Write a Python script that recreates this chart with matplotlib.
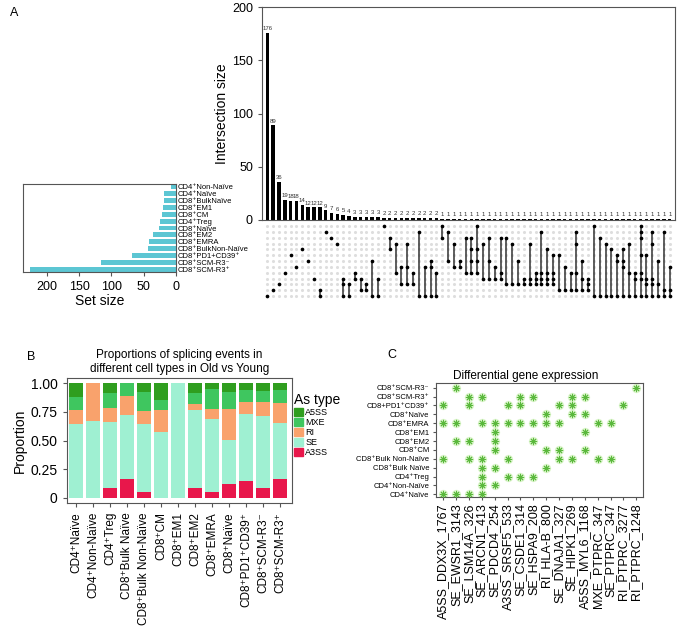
import matplotlib
matplotlib.use("Agg")
import matplotlib.pyplot as plt
import matplotlib.patches as mpatches
import numpy as np

plt.rcParams['font.family'] = ['Liberation Sans', 'DejaVu Sans']

# ---- panel A: upset ----
set_names = ["CD4⁺Non-Naïve", "CD4⁺Naïve", "CD8⁺BulkNaïve", "CD8⁺EM1", "CD8⁺CM",
             "CD4⁺Treg", "CD8⁺Naïve", "CD8⁺EM2", "CD8⁺EMRA", "CD8⁺BulkNon-Naïve",
             "CD8⁺PD1+CD39⁺", "CD8⁺SCM-R3⁻", "CD8⁺SCM-R3⁺"]
set_sizes = [8, 18, 19, 20, 22, 25, 27, 36, 42, 43, 68, 116, 226]

inter_counts = [176, 89, 36, 19, 18, 18, 14, 12, 12, 12, 9, 7, 6, 5, 4,
                3, 3, 3, 3, 3] + [2] * 10 + [1] * 40

# rows (index into set_names) that take part in each intersection
intersections = [
    [12], [11], [10], [8], [5], [7], [4], [6], [9], [11, 12],
    [1], [2], [3], [9, 10, 12], [10, 12], [8, 9], [9, 11], [10, 11], [6, 12], [9, 12],
    [0], [2, 4], [3, 8], [7, 10], [3, 7, 10], [8, 10], [1, 12], [7, 12], [6, 7, 12], [8, 12],
    [0, 2], [1, 6], [3, 7], [6, 7], [2, 8], [2, 4, 6, 8], [0, 4, 6, 8], [3, 9], [2, 6, 9], [7, 9],
    [2, 8, 9], [2, 10], [3, 10], [6, 10], [9, 10], [3, 9, 10], [8, 9, 10], [1, 8, 9, 10],
    [4, 8, 9, 10], [5, 8, 9, 10],
    [5, 11], [7, 11], [8, 11], [1, 3, 8, 11], [6, 9, 11], [9, 10, 11], [0, 12], [2, 12],
    [3, 12], [4, 12],
    [5, 6, 12], [4, 6, 7, 12], [3, 8, 12], [8, 9, 12], [0, 1, 2, 5, 8, 9, 12],
    [5, 9, 10, 12], [1, 3, 9, 10, 12], [6, 10, 12], [1, 11, 12], [7, 11, 12],
]

# ---- panel B: splicing proportions ----
cell_types = ["CD4⁺Naïve", "CD4⁺Non-Naïve", "CD4⁺Treg", "CD8⁺Bulk Naïve",
              "CD8⁺Bulk Non-Naïve", "CD8⁺CM", "CD8⁺EM1", "CD8⁺EM2", "CD8⁺EMRA",
              "CD8⁺Naïve", "CD8⁺PD1⁺CD39⁺", "CD8⁺SCM-R3⁻", "CD8⁺SCM-R3⁺"]
as_types = ["A3SS", "SE", "RI", "MXE", "A5SS"]  # bottom to top
a3ss = [0.0, 0.0, 0.085, 0.166, 0.047, 0.0, 0.0, 0.087, 0.047, 0.117, 0.149, 0.085, 0.166]
se = [0.644, 0.670, 0.580, 0.554, 0.594, 0.574, 1.0, 0.680, 0.638, 0.387, 0.583, 0.632, 0.484]
ri = [0.123, 0.330, 0.122, 0.172, 0.120, 0.190, 0.0, 0.052, 0.093, 0.269, 0.102, 0.123, 0.181]
mxe = [0.116, 0.0, 0.131, 0.108, 0.166, 0.090, 0.0, 0.094, 0.170, 0.151, 0.105, 0.096, 0.111]
a5ss = [0.117, 0.0, 0.082, 0.0, 0.073, 0.146, 0.0, 0.087, 0.052, 0.076, 0.061, 0.064, 0.058]
as_colors = {"A5SS": "#2f9e1f", "MXE": "#3fc65f", "RI": "#f9a26c",
             "SE": "#9ff0d2", "A3SS": "#e8174b"}

# ---- panel C: differential gene expression ----
genes = ["A5SS_DDX3X_1767", "SE_EWSR1_3143", "SE_LSM14A_326", "SE_ARCN1_413",
         "SE_PDCD4_254", "A3SS_SRSF5_533", "SE_CSDE1_314", "SE_HSPA9_208",
         "RI_HLA-B_800", "SE_DNAJA1_327", "SE_HIPK1_269", "A5SS_MYL6_1168",
         "MXE_PTPRC_347", "SE_PTPRC_347", "RI_PTPRC_3277", "RI_PTPRC_1248"]
dge_cells = ["CD4⁺Naïve", "CD4⁺Non-Naïve", "CD4⁺Treg", "CD8⁺Bulk Naïve",
             "CD8⁺Bulk Non-Naïve", "CD8⁺CM", "CD8⁺EM2", "CD8⁺EM1", "CD8⁺EMRA",
             "CD8⁺Naïve", "CD8+PD1⁺CD39⁺", "CD8⁺SCM-R3⁺", "CD8⁺SCM-R3⁻"]
dge_hits = [
    [0, 1, 2, 3],
    [3, 4],
    [3, 5, 6, 7],
    [3, 4, 8],
    [0, 2, 3, 5, 9, 10, 12, 13],
    [4, 8, 9, 11],
    [1, 2, 4, 7],
    [4, 11],
    [0, 1, 3, 4, 5, 6, 7, 8, 9, 12, 13],
    [8, 10, 11],
    [0, 2, 5, 6, 9, 10, 14],
    [2, 3, 6, 7, 10, 11],
    [1, 15],
]

fig = plt.figure(figsize=(7, 6.3), dpi=100)


def px_axes(x0, y0, x1, y1):
    return fig.add_axes([x0 / 700, 1 - y1 / 630, (x1 - x0) / 700, (y1 - y0) / 630])


frame_col = "#555555"

# intersection bars
ax_bar = px_axes(262, 7, 675, 220)
xs = np.arange(len(inter_counts))
ax_bar.bar(xs, inter_counts, width=0.6, color="black")
for x, c in zip(xs, inter_counts):
    ax_bar.text(x, c + 1.5, str(c), ha="center", va="bottom", fontsize=4.3, color="#333333")
ax_bar.set_xlim(-0.9, 69.9)
ax_bar.set_ylim(0, 200)
ax_bar.set_xticks([])
ax_bar.set_yticks([0, 50, 100, 150, 200])
ax_bar.tick_params(axis="y", labelsize=9, length=3, color=frame_col)
ax_bar.set_ylabel("Intersection size", fontsize=10, labelpad=2)
for s in ax_bar.spines.values():
    s.set_color(frame_col)

# matrix
ax_mat = px_axes(262, 222, 675, 302)
gx, gy = np.meshgrid(xs, np.arange(len(set_names)))
ax_mat.scatter(gx.ravel(), gy.ravel(), s=5, color="#dedede", linewidths=0)
for x, rows in zip(xs, intersections):
    if len(rows) > 1:
        ax_mat.plot([x, x], [min(rows), max(rows)], color="#333333", lw=1.1)
    ax_mat.scatter([x] * len(rows), rows, s=7, color="black", zorder=3, linewidths=0)
ax_mat.set_xlim(-0.9, 69.9)
ax_mat.set_ylim(13.0, -0.7)
ax_mat.axis("off")

# set sizes
ax_set = px_axes(23, 184, 176, 272)
ax_set.barh(np.arange(len(set_names)), set_sizes, height=0.72, color="#5cc6d3")
ax_set.set_xlim(237, 0)
ax_set.set_ylim(12.39, -0.39)
ax_set.set_xticks([200, 150, 100, 50, 0])
ax_set.yaxis.tick_right()
ax_set.set_yticks(np.arange(len(set_names)))
ax_set.set_yticklabels(set_names, fontsize=5.5)
ax_set.tick_params(axis="y", length=0, pad=1)
ax_set.tick_params(axis="x", labelsize=9, length=3, color=frame_col)
ax_set.set_xlabel("Set size", fontsize=10, labelpad=1)
for s in ax_set.spines.values():
    s.set_color(frame_col)

fig.text(10 / 700, 1 - 13 / 630, "A", fontsize=9, va="center")

# ---- panel B ----
ax_b = px_axes(66.7, 377.7, 291.7, 503)
bx = np.arange(len(cell_types))
bottom = np.zeros(len(cell_types))
series = {"A3SS": a3ss, "SE": se, "RI": ri, "MXE": mxe, "A5SS": a5ss}
for name in as_types:
    vals = np.array(series[name])
    ax_b.bar(bx, vals, bottom=bottom, width=0.85, color=as_colors[name], linewidth=0)
    bottom += vals
ax_b.set_xlim(-0.56, 12.69)
ax_b.set_ylim(-0.046, 1.049)
ax_b.set_yticks([0, 0.25, 0.5, 0.75, 1.0])
ax_b.set_yticklabels(["0", "0.25", "0.50", "0.75", "1.00"])
ax_b.set_xticks(bx)
ax_b.set_xticklabels(cell_types, rotation=90, fontsize=8.5)
ax_b.tick_params(axis="y", labelsize=10, length=3, color=frame_col)
ax_b.tick_params(axis="x", length=3, color=frame_col)
ax_b.set_ylabel("Proportion", fontsize=10, labelpad=3)
ax_b.set_title("Proportions of splicing events in\ndifferent cell types in Old vs Young",
               fontsize=8.5, pad=4)
for s in ax_b.spines.values():
    s.set_color(frame_col)
handles = [mpatches.Patch(color=as_colors[n], label=n) for n in ["A5SS", "MXE", "RI", "SE", "A3SS"]]
leg = ax_b.legend(handles=handles, title="As type", loc="upper left", bbox_to_anchor=(1.0, 0.9),
                  frameon=False, fontsize=6.5, title_fontsize=10, handlelength=0.9,
                  handleheight=0.9, labelspacing=0.12, handletextpad=0.3, borderaxespad=0.2,
                  borderpad=0.1)
leg._legend_box.align = "left"
fig.text(27 / 700, 1 - 357 / 630, "B", fontsize=9, va="center")

# ---- panel C ----
ax_c = px_axes(435.7, 382.7, 643, 497)
for row, cols in enumerate(dge_hits):
    ax_c.scatter(cols, [row] * len(cols), s=45, marker="o", color="#dcf5cc", linewidths=0, zorder=2)
    ax_c.scatter(cols, [row] * len(cols), s=22, marker=(8, 2, 0), color="#5ab83c",
                 linewidths=0.7, zorder=3)
ax_c.set_xlim(-0.59, 15.52)
ax_c.set_ylim(-0.3, 12.56)
ax_c.set_xticks(np.arange(len(genes)))
ax_c.set_xticklabels(genes, rotation=90, fontsize=9)
ax_c.set_yticks(np.arange(len(dge_cells)))
ax_c.set_yticklabels(dge_cells, fontsize=5.5)
ax_c.tick_params(length=2.5, color=frame_col, pad=2)
ax_c.set_title("Differential gene expression", fontsize=8.5, x=0.435, pad=3)
for s in ax_c.spines.values():
    s.set_color(frame_col)
fig.text(387 / 700, 1 - 355 / 630, "C", fontsize=9, va="center")

fig.savefig("out.png", dpi=100)
